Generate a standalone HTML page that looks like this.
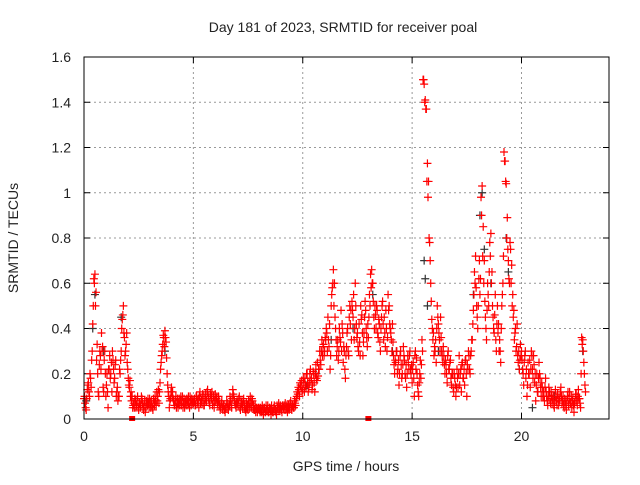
<!DOCTYPE html>
<html><head><meta charset="utf-8"><style>
body{margin:0;background:#fff}
svg text{font-family:"Liberation Sans",sans-serif;font-size:14px;fill:#222}
</style></head><body>
<svg id="c" width="640" height="480" xmlns="http://www.w3.org/2000/svg">
<text x="343" y="32" text-anchor="middle">Day 181 of 2023, SRMTID for receiver poal</text>
<text x="346" y="471" text-anchor="middle">GPS time / hours</text>
<text transform="translate(18,238) rotate(-90)" text-anchor="middle">SRMTID / TECUs</text>
<g id="grid"></g>
<g id="ticks"></g>
<g id="dark"></g>
<g id="red"></g>
<rect x="84" y="57" width="525" height="362" fill="none" stroke="#000" stroke-width="1"/>
</svg>
<script>
const xTicks=[0,5,10,15,20];
const yTicks=[0,0.2,0.4,0.6,0.8,1,1.2,1.4,1.6];
const yTickLabels=["0","0.2","0.4","0.6","0.8","1","1.2","1.4","1.6"];
const redStep=0.05;
const redByHour=[
[0.09,0.07,0.04,0.13,0.16,0.1,0.18,0.26,0.42,0.62,0.64,0.56,0.33,0.12,0.24,0.28,0.38,0.32,0.12,0.3],
[0.1,0.2,0.05,0.22,0.18,0.25,0.3,0.22,0.18,0.26,0.12,0.08,0.1,0.2,0.3,0.44,0.5,0.36,0.3,0.38],
[0.22,0.15,0.17,0.12,0.1,0.06,0.05,0.08,0.06,0.1,0.04,0.07,0.06,0.09,0.05,0.06,0.03,0.08,0.06,0.07],
[0.09,0.05,0.06,0.04,0.07,0.1,0.06,0.08,0.13,0.12,0.22,0.28,0.33,0.36,0.39,0.34,0.2,0.12,0.05,0.09],
[0.14,0.12,0.08,0.06,0.1,0.07,0.05,0.09,0.08,0.06,0.1,0.07,0.05,0.08,0.09,0.06,0.07,0.1,0.06,0.08],
[0.07,0.09,0.06,0.1,0.08,0.05,0.12,0.09,0.07,0.1,0.06,0.11,0.08,0.13,0.09,0.06,0.1,0.12,0.08,0.05],
[0.11,0.09,0.07,0.1,0.06,0.05,0.08,0.04,0.06,0.03,0.05,0.07,0.04,0.06,0.08,0.05,0.13,0.1,0.07,0.05],
[0.08,0.06,0.1,0.04,0.07,0.05,0.09,0.06,0.03,0.05,0.04,0.07,0.1,0.05,0.08,0.06,0.04,0.03,0.05,0.04],
[0.05,0.03,0.04,0.06,0.02,0.05,0.03,0.04,0.06,0.03,0.05,0.02,0.04,0.03,0.06,0.04,0.02,0.05,0.07,0.04],
[0.05,0.03,0.06,0.04,0.07,0.05,0.03,0.06,0.05,0.08,0.04,0.06,0.05,0.07,0.09,0.12,0.14,0.1,0.15,0.17],
[0.13,0.16,0.18,0.14,0.2,0.12,0.16,0.22,0.18,0.15,0.2,0.12,0.24,0.17,0.19,0.22,0.26,0.3,0.28,0.33],
[0.3,0.35,0.38,0.45,0.32,0.22,0.5,0.58,0.66,0.6,0.4,0.28,0.35,0.3,0.36,0.48,0.42,0.25,0.3,0.18],
[0.32,0.4,0.28,0.5,0.48,0.52,0.45,0.35,0.6,0.42,0.38,0.3,0.34,0.5,0.46,0.28,0.38,0.52,0.4,0.32],
[0.36,0.55,0.64,0.66,0.6,0.45,0.5,0.4,0.48,0.36,0.42,0.3,0.45,0.52,0.35,0.38,0.48,0.3,0.55,0.5],
[0.4,0.35,0.42,0.28,0.2,0.25,0.3,0.22,0.15,0.28,0.24,0.2,0.32,0.26,0.18,0.14,0.28,0.22,0.3,0.2],
[0.16,0.25,0.1,0.3,0.27,0.15,0.1,0.2,0.18,0.35,1.5,1.48,1.41,1.37,1.13,1.05,0.78,0.6,0.44,0.35],
[0.28,0.3,0.25,0.5,0.42,0.35,0.45,0.3,0.25,0.28,0.2,0.24,0.16,0.3,0.22,0.26,0.15,0.2,0.12,0.18],
[0.1,0.22,0.14,0.28,0.2,0.12,0.25,0.18,0.15,0.26,0.1,0.22,0.28,0.2,0.3,0.35,0.48,0.65,0.72,0.5],
[0.4,0.62,0.55,0.98,1.03,0.85,0.7,0.45,0.35,0.6,0.5,0.78,0.82,0.65,0.45,0.38,0.55,0.3,0.5,0.42],
[0.35,0.25,0.5,0.6,1.18,1.14,1.04,0.89,0.7,0.6,0.75,0.68,0.55,0.48,0.38,0.3,0.42,0.25,0.22,0.33],
[0.3,0.22,0.15,0.28,0.18,0.1,0.25,0.2,0.14,0.3,0.22,0.28,0.16,0.08,0.2,0.12,0.25,0.18,0.1,0.14],
[0.12,0.08,0.18,0.1,0.06,0.14,0.09,0.12,0.07,0.1,0.05,0.13,0.08,0.11,0.06,0.09,0.14,0.07,0.1,0.05],
[0.08,0.04,0.1,0.06,0.12,0.07,0.05,0.09,0.03,0.08,0.11,0.06,0.13,0.09,0.05,0.36,0.35,0.25,0.15]
];
const red2Offset=0.025;
const red2ByHour=[
[0.1,0.05,0.09,0.15,0.12,0.2,0.14,0.3,0.5,0.6,0.5,0.26,0.2,0.1,0.3,0.22,0.3,0.14,0.26,0.2],
[0.15,0.12,0.22,0.28,0.2,0.12,0.26,0.16,0.24,0.1,0.14,0.1,0.22,0.26,0.4,0.46,0.38,0.28,0.33,0.25],
[0.18,0.14,0.1,0.08,0.05,0.07,0.09,0.05,0.08,0.05,0.07,0.05,0.1,0.07,0.04,0.08,0.05,0.07,0.09,0.05],
[0.07,0.08,0.05,0.09,0.06,0.08,0.12,0.1,0.07,0.16,0.25,0.3,0.37,0.32,0.36,0.27,0.15,0.1,0.08,0.12],
[0.1,0.09,0.06,0.08,0.05,0.09,0.07,0.06,0.1,0.08,0.05,0.09,0.07,0.06,0.08,0.1,0.05,0.08,0.09,0.07],
[0.08,0.06,0.1,0.07,0.09,0.1,0.07,0.08,0.11,0.06,0.09,0.08,0.12,0.1,0.07,0.11,0.09,0.06,0.1,0.08],
[0.08,0.1,0.06,0.08,0.04,0.07,0.05,0.06,0.04,0.05,0.08,0.05,0.06,0.1,0.06,0.09,0.11,0.08,0.06,0.07],
[0.07,0.09,0.05,0.08,0.06,0.08,0.05,0.04,0.07,0.06,0.08,0.05,0.07,0.09,0.05,0.04,0.06,0.05,0.03,0.05],
[0.04,0.05,0.03,0.04,0.05,0.03,0.06,0.04,0.03,0.05,0.04,0.06,0.03,0.05,0.04,0.03,0.06,0.04,0.05,0.06],
[0.04,0.06,0.05,0.06,0.04,0.06,0.05,0.04,0.07,0.05,0.06,0.05,0.08,0.06,0.1,0.11,0.13,0.16,0.14,0.12],
[0.18,0.12,0.15,0.2,0.16,0.14,0.2,0.17,0.13,0.21,0.16,0.2,0.18,0.25,0.22,0.3,0.24,0.35,0.32,0.28],
[0.36,0.4,0.3,0.35,0.42,0.28,0.55,0.6,0.5,0.45,0.35,0.32,0.26,0.4,0.34,0.3,0.38,0.32,0.22,0.28],
[0.38,0.3,0.45,0.42,0.35,0.48,0.55,0.4,0.5,0.36,0.32,0.42,0.28,0.44,0.38,0.34,0.45,0.48,0.36,0.42],
[0.45,0.5,0.58,0.6,0.52,0.4,0.46,0.5,0.38,0.44,0.34,0.4,0.5,0.42,0.45,0.32,0.4,0.36,0.48,0.42],
[0.38,0.3,0.34,0.24,0.26,0.3,0.2,0.26,0.2,0.3,0.18,0.24,0.28,0.2,0.24,0.2,0.25,0.28,0.22,0.24],
[0.22,0.18,0.28,0.22,0.2,0.12,0.16,0.26,0.24,0.3,1.5,1.4,1.37,1.05,0.98,0.8,0.7,0.52,0.4,0.38],
[0.32,0.35,0.4,0.45,0.38,0.3,0.36,0.28,0.32,0.24,0.26,0.2,0.28,0.22,0.25,0.18,0.2,0.14,0.2,0.15],
[0.14,0.18,0.2,0.15,0.22,0.24,0.18,0.22,0.26,0.2,0.24,0.3,0.22,0.28,0.35,0.42,0.55,0.6,0.58,0.45],
[0.5,0.7,0.62,0.9,0.72,0.6,0.52,0.4,0.48,0.55,0.65,0.72,0.6,0.5,0.4,0.46,0.35,0.42,0.38,0.3],
[0.3,0.4,0.55,0.72,1.14,1.05,0.8,0.75,0.62,0.78,0.6,0.5,0.45,0.35,0.4,0.32,0.28,0.3,0.26,0.28],
[0.26,0.2,0.25,0.3,0.22,0.15,0.2,0.26,0.22,0.28,0.18,0.24,0.2,0.15,0.12,0.18,0.2,0.14,0.16,0.1],
[0.1,0.14,0.12,0.08,0.1,0.12,0.07,0.1,0.09,0.06,0.08,0.1,0.06,0.09,0.08,0.12,0.1,0.08,0.06,0.09],
[0.06,0.08,0.12,0.09,0.07,0.1,0.08,0.06,0.07,0.11,0.08,0.1,0.09,0.07,0.2,0.33,0.3,0.2,0.12]
];
const darkT=[0.1,0.4,0.5,0.9,1.7,3.7,10.2,10.6,11.3,12.3,13.2,14.1,15.55,15.6,15.7,16.2,17.8,18.1,18.2,18.3,18.6,19.3,19.4,19.9,20.5,21.5,22.8];
const darkV=[0.08,0.4,0.55,0.3,0.45,0.3,0.15,0.2,0.35,0.4,0.55,0.3,0.7,0.62,0.5,0.3,0.55,0.9,1.0,0.75,0.6,0.8,0.65,0.22,0.05,0.1,0.3];
const sqT=[2.2,13.0];
const sqV=[0,0];

const X0=84,X1=609,Y0=419,Y1=57,XMAX=24,YMAX=1.6;
function sx(t){return X0+(X1-X0)*t/XMAX;}
function sy(v){return Y0-(Y0-Y1)*v/YMAX;}
const NS="http://www.w3.org/2000/svg";
function mk(tag,attrs,parent){const e=document.createElementNS(NS,tag);for(const k in attrs)e.setAttribute(k,attrs[k]);parent.appendChild(e);return e;}
const grid=document.getElementById('grid'),ticks=document.getElementById('ticks');
xTicks.forEach((t,i)=>{
  if(t>0){const g=mk('line',{x1:sx(t),x2:sx(t),y1:Y1,y2:Y0,stroke:'#999','stroke-dasharray':'2,3'},grid);
  
  }
  const a=mk('line',{x1:sx(t),x2:sx(t),y1:Y0,y2:Y0-6,stroke:'#000'},ticks);
  
  
  const b=mk('line',{x1:sx(t),x2:sx(t),y1:Y1,y2:Y1+6,stroke:'#000'},ticks);
  
  
  const l=mk('text',{x:sx(t),y:Y0+22,'text-anchor':'middle'},ticks);l.textContent=String(t);
  
  
});
yTicks.forEach((v,i)=>{
  if(v>0&&v<YMAX){const g=mk('line',{x1:X0,x2:X1,y1:sy(v),y2:sy(v),stroke:'#999','stroke-dasharray':'2,3'},grid);
  
  }
  const a=mk('line',{x1:X0,x2:X0+6,y1:sy(v),y2:sy(v),stroke:'#000'},ticks);
  
  
  const b=mk('line',{x1:X1,x2:X1-6,y1:sy(v),y2:sy(v),stroke:'#000'},ticks);
  
  
  const l=mk('text',{x:X0-13,y:sy(v)+5,'text-anchor':'end'},ticks);l.textContent=yTickLabels[i];
  
  
});
function plus(t,v,col,g,name){
  const x=sx(t),y=sy(v);
  const p=mk('path',{d:`M${x-4},${y}H${x+4}M${x},${y-4}V${y+4}`,stroke:col,'stroke-width':1.2,fill:'none'},g);
  
  
}
const dark=document.getElementById('dark'),red=document.getElementById('red');
darkT.forEach((t,i)=>plus(t,darkV[i],'#333',dark,'dark-point'));
redByHour.forEach((vals,h)=>vals.forEach((v,j)=>plus(h+j*redStep,v,'#ff0000',red,'red-point')));
red2ByHour.forEach((vals,h)=>vals.forEach((v,j)=>plus(h+red2Offset+j*redStep,v,'#ff0000',red,'red-point')));
sqT.forEach((t,i)=>{
  const r=mk('rect',{x:sx(t)-3,y:sy(sqV[i])-3,width:6,height:5,fill:'#ff0000'},red);
  
  
});
</script>
</body></html>
